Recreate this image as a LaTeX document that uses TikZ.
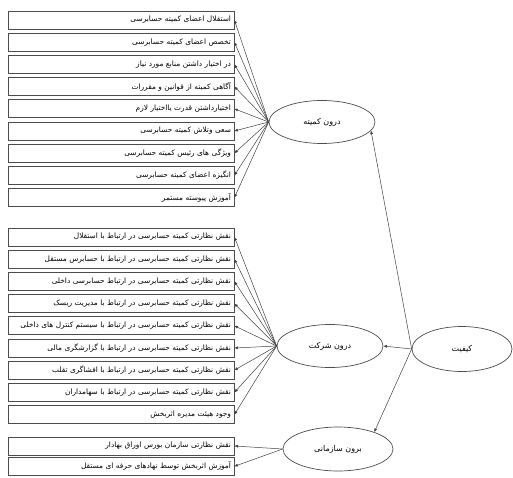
\documentclass[tikz,border=0pt]{standalone}
\usepackage{fontspec}
\newfontfamily\arabicfont[Script=Arabic]{DejaVu Sans}
\TeXXeTstate=1
\usetikzlibrary{arrows.meta,positioning,shapes.geometric}
\newcommand{\fatext}[1]{{\arabicfont\beginR #1\endR}}
\tikzset{
  crit/.style={draw=black!70, line width=0.8pt, minimum width=226pt, minimum height=18pt,
               text width=220pt, align=right, inner sep=0pt, font=\fontsize{7.4}{8}\selectfont},
  facet/.style={draw=black!70, line width=0.7pt, ellipse, minimum width=106pt,
                minimum height=43pt, inner sep=0pt, font=\fontsize{8}{9}\selectfont},
  critarrow/.style={-{Latex[length=3.5pt,width=3pt]}, draw=black!75, line width=0.5pt}
}
\begin{document}
\begin{tikzpicture}[x=1pt, y=1pt, node distance=3.4pt]
\useasboundingbox (0,0) rectangle (513,477);
% inner committee factors
\node[crit] (k1) at (121,457) {\fatext{استقلال اعضای کمیته حسابرسی}};
\node[crit, below=of k1] (k2) {\fatext{تخصص اعضای کمیته حسابرسی}};
\node[crit, below=of k2] (k3) {\fatext{در اختیار داشتن منابع مورد نیاز}};
\node[crit, below=of k3] (k4) {\fatext{آگاهی کمیته از قوانین و مقررات}};
\node[crit, below=of k4] (k5) {\fatext{اختیارداشتن قدرت یااختیار لازم}};
\node[crit, below=of k5] (k6) {\fatext{سعی وتلاش کمیته حسابرسی}};
\node[crit, below=of k6] (k7) {\fatext{ویژگی های رئیس کمیته حسابرسی}};
\node[crit, below=of k7] (k8) {\fatext{انگیزه اعضای کمیته حسابرسی}};
\node[crit, below=of k8] (k9) {\fatext{آموزش پیوسته مستمر}};
% inner company factors
\node[crit] (s1) at (121,240) {\fatext{نقش نظارتی کمیته حسابرسی در ارتباط با استقلال}};
\node[crit, below=of s1] (s2) {\fatext{نقش نظارتی کمیته حسابرسی در ارتباط با حسابرس مستقل}};
\node[crit, below=of s2] (s3) {\fatext{نقش نظارتی کمیته حسابرسی در ارتباط حسابرسی داخلی}};
\node[crit, below=of s3] (s4) {\fatext{نقش نظارتی کمیته حسابرسی در ارتباط با مدیریت ریسک}};
\node[crit, below=of s4] (s5) {\fatext{نقش نظارتی کمیته حسابرسی در ارتباط با سیستم کنترل های داخلی}};
\node[crit, below=of s5] (s6) {\fatext{نقش نظارتی کمیته حسابرسی در ارتباط با گزارشگری مالی}};
\node[crit, below=of s6] (s7) {\fatext{نقش نظارتی کمیته حسابرسی در ارتباط با افشاگری تقلب}};
\node[crit, below=of s7] (s8) {\fatext{نقش نظارتی کمیته حسابرسی در ارتباط با سهامداران}};
\node[crit, below=of s8] (s9) {\fatext{وجود هیئت مدیره اثربخش}};
% outer factors
\node[crit] (b1) at (121,31) {\fatext{نقش نظارتی سازمان بورس اوراق بهادار}};
\node[crit, below=1.5pt of b1] (b2) {\fatext{آموزش اثربخش توسط نهادهای حرفه ای مستقل}};
% dimensions
\node[facet] (kom) at (322,355) {\fatext{درون کمیته}};
\node[facet] (shr) at (330,131) {\fatext{درون شرکت}};
\node[facet, minimum width=100pt, minimum height=45pt] (kif) at (462,128) {\fatext{کیفیت}};
\node[facet, minimum width=110pt, minimum height=44pt] (bir) at (338,28) {\fatext{برون سازمانی}};
\draw[critarrow] (kif.west) -- (kom.-10);
\draw[critarrow] (kif.west) -- (shr.east);
\draw[critarrow] (kif.west) -- (bir.25);
\draw[critarrow] (kom.west) -- (k1.east);
\draw[critarrow] (kom.west) -- (k2.east);
\draw[critarrow] (kom.west) -- (k3.east);
\draw[critarrow] (kom.west) -- (k4.east);
\draw[critarrow] (kom.west) -- (k5.east);
\draw[critarrow] (kom.west) -- (k6.east);
\draw[critarrow] (kom.west) -- (k7.east);
\draw[critarrow] (kom.west) -- (k8.east);
\draw[critarrow] (kom.west) -- (k9.east);
\draw[critarrow] (shr.west) -- (s1.east);
\draw[critarrow] (shr.west) -- (s2.east);
\draw[critarrow] (shr.west) -- (s3.east);
\draw[critarrow] (shr.west) -- (s4.east);
\draw[critarrow] (shr.west) -- (s5.east);
\draw[critarrow] (shr.west) -- (s6.east);
\draw[critarrow] (shr.west) -- (s7.east);
\draw[critarrow] (shr.west) -- (s8.east);
\draw[critarrow] (shr.west) -- (s9.east);
\draw[critarrow] (bir.west) -- (b1.east);
\draw[critarrow] (bir.west) -- (b2.east);
\end{tikzpicture}
\end{document}
